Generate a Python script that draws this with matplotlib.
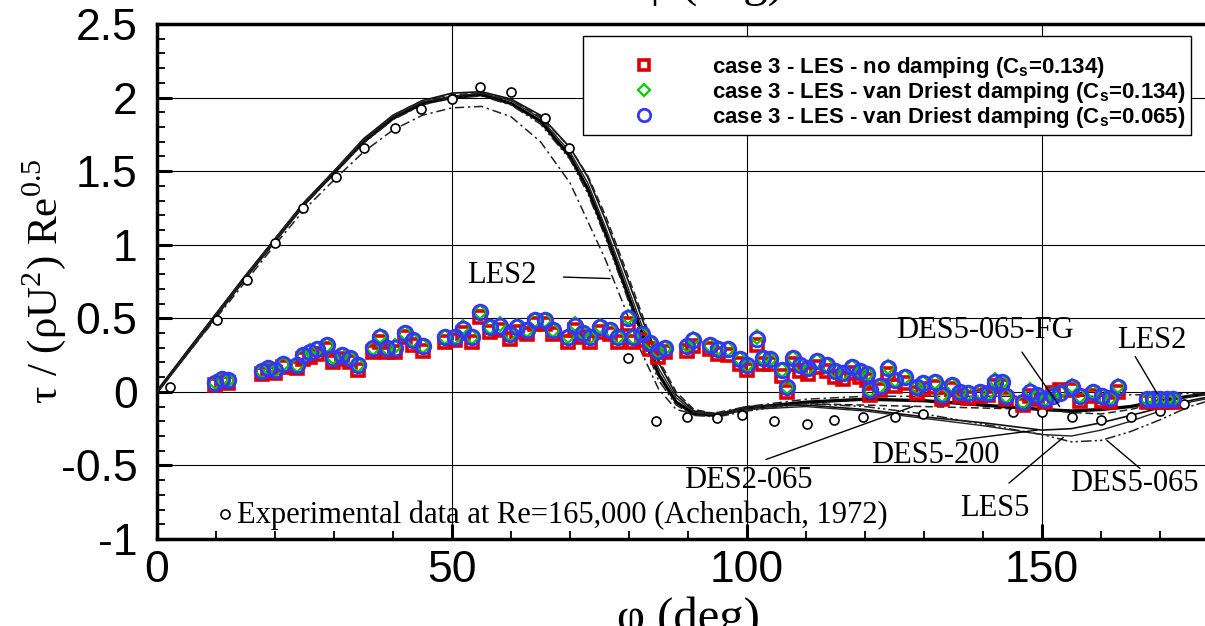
import matplotlib
matplotlib.use('Agg')
import matplotlib.pyplot as plt
from matplotlib.ticker import MultipleLocator, FuncFormatter

plt.rcParams['axes.unicode_minus'] = False
plt.rcParams['mathtext.fontset'] = 'custom'
plt.rcParams['mathtext.rm'] = 'Liberation Serif'
plt.rcParams['mathtext.sf'] = 'Liberation Sans:bold'

SERIF = 'Liberation Serif'
SANS = 'Liberation Sans'

# scanned reference curves (LES/DES results)
phi_curve = [0, 5, 10, 15, 20, 25, 30, 35, 40, 45, 50, 55, 60, 65, 70, 73, 76, 79, 82, 85,
             88, 91, 95, 100, 110, 120, 130, 140, 150, 155, 160, 165, 170, 175, 180]
tau_main = [0, 0.26, 0.52, 0.78, 1.03, 1.28, 1.49, 1.70, 1.86, 1.96, 2.00, 2.02, 1.96, 1.84, 1.60, 1.38, 1.08, 0.75, 0.42, 0.12,
            -0.07, -0.15, -0.16, -0.11, -0.07, -0.05, -0.06, -0.09, -0.12, -0.13, -0.12, -0.10, -0.06, -0.03, 0.0]
tau_des5_200 = [0, 0.27, 0.53, 0.79, 1.04, 1.29, 1.50, 1.72, 1.88, 1.98, 2.03, 2.04, 1.99, 1.88, 1.66, 1.46, 1.17, 0.85, 0.52, 0.20,
                -0.02, -0.13, -0.15, -0.10, -0.09, -0.12, -0.17, -0.21, -0.26, -0.25, -0.21, -0.16, -0.11, -0.06, -0.02]
tau_des5_065 = [0, 0.25, 0.51, 0.77, 1.02, 1.27, 1.48, 1.69, 1.85, 1.95, 2.00, 2.01, 1.95, 1.82, 1.58, 1.35, 1.05, 0.72, 0.38, 0.08,
                -0.09, -0.16, -0.17, -0.13, -0.08, -0.10, -0.15, -0.22, -0.29, -0.34, -0.33, -0.27, -0.19, -0.10, -0.04]
tau_les5 = [0, 0.26, 0.52, 0.78, 1.03, 1.28, 1.50, 1.71, 1.87, 1.97, 2.01, 2.03, 1.98, 1.86, 1.63, 1.42, 1.12, 0.80, 0.47, 0.16,
            -0.04, -0.14, -0.16, -0.12, -0.10, -0.13, -0.18, -0.23, -0.29, -0.30, -0.26, -0.20, -0.13, -0.07, -0.03]
tau_les2 = [0, 0.25, 0.50, 0.75, 1.00, 1.24, 1.44, 1.63, 1.78, 1.88, 1.93, 1.94, 1.87, 1.70, 1.42, 1.16, 0.90, 0.60, 0.28, 0.02,
            -0.12, -0.15, -0.14, -0.10, -0.05, -0.03, -0.03, -0.03, -0.03, -0.03, -0.03, -0.02, -0.02, -0.01, 0.0]
tau_des2_065 = [0, 0.26, 0.53, 0.79, 1.04, 1.29, 1.50, 1.71, 1.88, 1.98, 2.02, 2.03, 1.98, 1.87, 1.66, 1.47, 1.20, 0.88, 0.55, 0.22,
                0.0, -0.12, -0.15, -0.11, -0.08, -0.09, -0.10, -0.11, -0.12, -0.14, -0.15, -0.12, -0.07, -0.03, 0.0]

# Achenbach (1972) experiment
phi_exp = [2.2, 10.2, 15.3, 20.0, 24.8, 30.3, 35.0, 40.3, 44.7, 50.0, 54.7, 60.0, 65.8, 69.8, 79.8, 84.6,
           89.8, 94.9, 99.1, 104.6, 110.2, 114.7, 119.6, 125.0, 129.8, 145.0, 150.0, 155.0, 160.0, 165.0, 170.0, 174.0]
tau_exp = [0.03, 0.49, 0.76, 1.01, 1.25, 1.46, 1.66, 1.79, 1.92, 1.99, 2.07, 2.04, 1.86, 1.66, 0.23, -0.20,
           -0.17, -0.18, -0.16, -0.20, -0.22, -0.19, -0.17, -0.17, -0.15, -0.14, -0.14, -0.17, -0.19, -0.17, -0.13, -0.08]

# case 3 LES results
phi_les = [9.8, 11.0, 12.0, 17.8, 18.8, 20.0, 21.4, 23.7, 24.8, 25.9, 27.1, 28.8, 29.8, 31.3, 32.7, 34.1,
           36.6, 37.8, 39.0, 40.3, 42.0, 43.4, 45.1, 48.8, 50.5, 51.9, 53.4, 54.7, 56.4, 58.1, 59.8, 61.0,
           62.7, 64.1, 65.8, 67.1, 69.7, 70.8, 72.2, 73.4, 75.1, 76.8, 78.1, 79.8, 80.7, 82.2, 83.6, 84.9,
           86.1, 89.8, 90.8, 93.7, 95.1, 96.8, 98.8, 100.0, 101.7, 102.7, 103.9, 105.9, 106.8, 107.8, 109.0, 110.3,
           111.9, 113.6, 114.9, 116.3, 117.8, 119.2, 120.3, 120.8, 122.5, 123.9, 125.1, 126.8, 128.8, 129.8, 131.9, 133.0,
           134.7, 136.1, 137.5, 139.5, 140.8, 142.0, 143.2, 143.9, 146.8, 148.0, 149.1, 150.5, 151.9, 153.0, 155.1, 156.4,
           158.6, 160.2, 161.5, 162.9, 167.8, 168.8, 170.0, 171.2, 172.2]
tau_cs065_vd = [0.06, 0.09, 0.08, 0.14, 0.16, 0.15, 0.19, 0.18, 0.25, 0.27, 0.29, 0.32, 0.23, 0.25, 0.23, 0.18,
                0.30, 0.37, 0.30, 0.30, 0.40, 0.35, 0.31, 0.37, 0.37, 0.43, 0.37, 0.54, 0.44, 0.45, 0.39, 0.44,
                0.42, 0.49, 0.49, 0.42, 0.37, 0.45, 0.40, 0.37, 0.44, 0.42, 0.37, 0.50, 0.37, 0.39, 0.33, 0.28,
                0.30, 0.31, 0.35, 0.32, 0.29, 0.29, 0.22, 0.18, 0.36, 0.23, 0.22, 0.15, 0.03, 0.23, 0.18, 0.16,
                0.21, 0.18, 0.14, 0.13, 0.17, 0.14, 0.12, 0.01, 0.04, 0.16, 0.08, 0.10, 0.03, 0.06, 0.07, -0.02,
                0.05, 0.00, -0.01, 0.00, -0.01, 0.07, 0.07, -0.03, -0.07, 0.00, -0.02, -0.05, -0.03, -0.01, 0.03, -0.03,
                0.00, -0.03, -0.04, 0.03, -0.05, -0.05, -0.05, -0.05, -0.05]
tau_cs134_vd = [0.07, 0.09, 0.08, 0.14, 0.16, 0.15, 0.19, 0.18, 0.25, 0.28, 0.29, 0.32, 0.24, 0.25, 0.23, 0.18,
                0.30, 0.38, 0.30, 0.31, 0.40, 0.35, 0.31, 0.37, 0.37, 0.44, 0.37, 0.54, 0.44, 0.46, 0.39, 0.45,
                0.42, 0.49, 0.49, 0.42, 0.38, 0.46, 0.40, 0.37, 0.45, 0.42, 0.37, 0.51, 0.37, 0.39, 0.34, 0.28,
                0.30, 0.32, 0.36, 0.32, 0.30, 0.29, 0.22, 0.18, 0.37, 0.23, 0.22, 0.15, 0.03, 0.23, 0.18, 0.16,
                0.21, 0.18, 0.14, 0.13, 0.17, 0.14, 0.12, 0.01, 0.04, 0.17, 0.08, 0.10, 0.03, 0.06, 0.07, -0.02,
                0.05, 0.00, -0.01, 0.00, -0.01, 0.08, 0.07, -0.03, -0.07, 0.01, -0.02, -0.05, -0.02, 0.00, 0.04, -0.03,
                0.00, -0.03, -0.04, 0.04, -0.05, -0.05, -0.05, -0.05, -0.05]
tau_cs134_nd = [0.05, 0.07, 0.06, 0.12, 0.14, 0.13, 0.17, 0.16, 0.22, 0.24, 0.26, 0.29, 0.20, 0.22, 0.20, 0.15,
                0.27, 0.34, 0.27, 0.27, 0.37, 0.32, 0.28, 0.34, 0.35, 0.40, 0.34, 0.51, 0.41, 0.42, 0.36, 0.41,
                0.39, 0.46, 0.46, 0.39, 0.34, 0.42, 0.37, 0.34, 0.41, 0.39, 0.34, 0.46, 0.34, 0.35, 0.29, 0.24,
                0.27, 0.28, 0.31, 0.29, 0.26, 0.25, 0.19, 0.15, 0.32, 0.19, 0.19, 0.11, 0.00, 0.19, 0.14, 0.12,
                0.17, 0.14, 0.10, 0.09, 0.13, 0.10, 0.08, -0.02, 0.01, 0.12, 0.04, 0.06, -0.01, 0.02, 0.03, -0.05,
                0.02, -0.03, -0.04, -0.03, -0.02, 0.04, 0.04, -0.05, -0.09, -0.03, -0.05, -0.07, -0.01, 0.01, 0.01, -0.06,
                -0.03, -0.06, -0.07, 0.00, -0.07, -0.07, -0.07, -0.07, -0.07]

fig = plt.figure(figsize=(12.05, 6.26), dpi=100)
ax = fig.add_axes([157 / 1205, 87 / 626, 1062 / 1205, 515 / 626])

# scanned curves
ax.plot(phi_curve, tau_main, color='black', lw=2.4, zorder=3)
ax.plot(phi_curve, tau_des5_200, color='#111111', lw=1.2, zorder=3)
ax.plot(phi_curve, tau_les5, color='#222222', lw=1.0, zorder=3)
ax.plot(phi_curve, tau_des5_065, color='#222222', lw=1.1, dashes=(7, 2, 1.5, 2, 1.5, 2), zorder=3)
ax.plot(phi_curve, tau_les2, color='#222222', lw=1.1, dashes=(6, 2.5, 1.5, 2.5), zorder=3)
ax.plot(phi_curve, tau_des2_065, color='#222222', lw=1.1, dashes=(5, 2.5), zorder=3)
ax.plot(phi_exp, tau_exp, linestyle='none', marker='o', ms=6.5, mfc='white', mec='black', mew=1.2, zorder=4)

# LES case 3
ax.plot(phi_les, tau_cs134_nd, linestyle='none', marker='s', ms=8, mfc='none', mec='#dd0000', mew=2.6,
        zorder=5, label=r'case 3 - LES - no damping ($\mathsf{C_s}$=0.134)')
ax.plot(phi_les, tau_cs134_vd, linestyle='none', marker='D', ms=7.5, mfc='none', mec='#00cc00', mew=1.6,
        zorder=6, label=r'case 3 - LES - van Driest damping ($\mathsf{C_s}$=0.134)')
ax.plot(phi_les, tau_cs065_vd, linestyle='none', marker='o', ms=10.5, mfc='none', mec='#3535ff', mew=2.0,
        zorder=7, label=r'case 3 - LES - van Driest damping ($\mathsf{C_s}$=0.065)')

# curve labels with leader lines
lead = dict(arrowstyle='-', color='black', lw=1.0, shrinkA=0, shrinkB=0)
labels = [
    ('LES2', (58.5, 0.79), (68.9, 0.78), (76.8, 0.77)),
    ('DES5-065-FG', (140.3, 0.42), (146.6, 0.27), (153.0, -0.10)),
    ('LES2', (168.6, 0.35), (165.8, 0.24), (169.5, -0.01)),
    ('DES5-200', (131.9, -0.435), (135.6, -0.33), (149.2, -0.26)),
    ('DES2-065', (100.2, -0.60), (103.2, -0.46), (128.1, -0.10)),
    ('LES5', (142.0, -0.79), (144.4, -0.62), (153.6, -0.31)),
    ('DES5-065', (165.6, -0.62), (166.6, -0.52), (161.0, -0.33)),
]
for txt, pos, p0, p1 in labels:
    ax.text(pos[0], pos[1], txt, family=SERIF, fontsize=22, ha='center', va='center', zorder=8)
    ax.annotate('', xy=p1, xytext=p0, arrowprops=lead, zorder=8)

ax.plot([11.5], [-0.83], linestyle='none', marker='o', ms=6.5, mfc='white', mec='black', mew=1.2, zorder=8)
ax.text(13.6, -0.84, 'Experimental data at Re=165,000 (Achenbach, 1972)', family=SERIF, fontsize=22,
        ha='left', va='center', zorder=8)

ax.set_xlim(0, 180)
ax.set_ylim(-1, 2.5)
ax.xaxis.set_major_locator(MultipleLocator(50))
ax.xaxis.set_minor_locator(MultipleLocator(10))
ax.yaxis.set_major_locator(MultipleLocator(0.5))
ax.yaxis.set_minor_locator(MultipleLocator(0.1))
ax.yaxis.set_major_formatter(FuncFormatter(lambda v, p: f'{v:g}'))
ax.tick_params(which='major', direction='in', length=11, width=2.2, labelsize=32)
ax.tick_params(which='minor', direction='in', length=6, width=1.3)
ax.tick_params(axis='y', which='major', pad=14)
ax.tick_params(axis='x', which='major', pad=8)
for lab in ax.get_xticklabels() + ax.get_yticklabels():
    lab.set_family(SANS)
ax.grid(True, which='major', color='black', lw=0.8)
ax.set_axisbelow(True)
for side in ['left', 'bottom', 'top']:
    ax.spines[side].set_linewidth(2.5)
ax.spines['right'].set_visible(False)

ax.set_ylabel('τ / (ρU$^2$) Re$^{0.5}$', family=SERIF, fontsize=31)
ax.yaxis.set_label_coords(-0.084, 0.5)
# axis title below, and the leftover one of the panel above, both clipped by the page edge as in the source
fig.text(688 / 1205, 1 - 596 / 626, 'φ (deg)', family=SERIF, fontsize=35, ha='center', va='top')
fig.text(712 / 1205, 1 + 4 / 626, 'φ (deg)', family=SERIF, fontsize=35, ha='center', va='baseline')

leg = ax.legend(loc='upper left', bbox_to_anchor=(0.4011, 0.9767), borderaxespad=0,
                prop={'family': SANS, 'weight': 'bold', 'size': 16}, frameon=True, fancybox=False,
                edgecolor='black', framealpha=1, borderpad=0.25, handlelength=5.0, handletextpad=0.54,
                labelspacing=0.0, markerscale=0.85, title=' ', title_fontsize=9)
leg.get_frame().set_linewidth(1.0)
leg.set_zorder(10)

fig.savefig('out.png', dpi=100)
